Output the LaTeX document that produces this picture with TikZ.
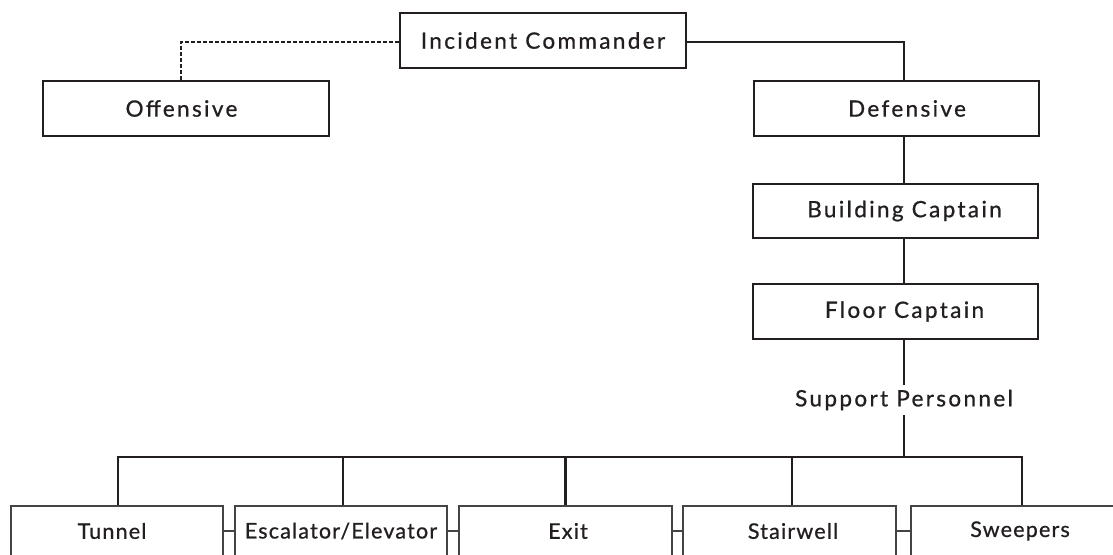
\documentclass[tikz,border=0pt]{standalone}
\usepackage{fontspec}
\setmainfont{Lato}
\newfontfamily\topfont{Lato}[LetterSpace=10.5,FakeBold=0.8]
\newfontfamily\botfont{Lato}[LetterSpace=5.5,FakeBold=0.8]
\usetikzlibrary{positioning}
\definecolor{ink}{HTML}{231F20}
\definecolor{thin}{HTML}{444444}
\tikzset{
  topbox/.style={draw=ink, line width=2.4pt, rectangle, inner sep=0pt, text=ink,
    font=\topfont\fontsize{22.5}{26}\selectfont},
  botbox/.style={draw=thin, line width=1.3pt, rectangle, inner sep=0pt, text=ink,
    minimum height=50pt, font=\botfont\fontsize{21.5}{25}\selectfont},
  conn/.style={draw=ink, line width=2.4pt},
  dconn/.style={draw=ink, line width=2.4pt, dash pattern=on 4pt off 2pt},
  link/.style={draw=thin, line width=1.3pt},
}
\begin{document}
\begin{tikzpicture}[x=1pt,y=-1pt]
\useasboundingbox (0,0) rectangle (1113,554);
\clip (0,0) rectangle (1113,554);
\fill[white] (0,0) rectangle (1113,554);
% top level
\node[topbox, minimum width=286pt, minimum height=55pt] (ic) at (543,40.5) {Incident Commander};
\node[topbox, minimum width=286pt, minimum height=55pt] (off) at (186,108.5) {\hspace*{-9pt}Offensive};
\node[topbox, minimum width=285pt, minimum height=55pt] (def) at (896.5,108.5) {\hspace*{21pt}Defensive};
\node[topbox, minimum width=285pt, minimum height=54pt] (bc) at (895.5,211) {\hspace*{18pt}Building Captain};
\node[topbox, minimum width=285pt, minimum height=55pt] (fc) at (895.5,311.5) {\hspace*{18pt}Floor Captain};
\node[inner sep=0pt, minimum height=30pt, text=ink, font=\topfont\fontsize{22.5}{26}\selectfont] (sp) at (904,400) {Support Personnel};
\coordinate (bus) at (904,457);
% bottom row
\node[botbox, minimum width=212pt] (tun) at (117,531) {\hspace*{-10pt}Tunnel};
\node[botbox, minimum width=212pt] (esc) at (341,531) {Escalator/Elevator};
\node[botbox, minimum width=213pt] (exit) at (565.5,531) {\hspace*{5pt}Exit};
\node[botbox, minimum width=213pt] (stair) at (789.5,531) {\hspace*{7pt}Stairwell};
\node[botbox, minimum width=213pt] (sweep) at (1017.5,531) {\hspace*{5pt}Sweepers};
% connectors
\draw[dconn] ([yshift=-1.5pt]ic.west) -| ([xshift=-5pt]off.north);
\draw[conn] ([yshift=-1.5pt]ic.east) -| (sp |- def.north);
\draw[conn] (sp |- def.south) -- (sp |- bc.north);
\draw[conn] (sp |- bc.south) -- (sp |- fc.north);
\draw[conn] (sp |- fc.south) -- (sp.north);
\draw[conn] (sp.south) -- (bus);
\draw[conn] ([xshift=1pt]tun.north) |- (bus);
\draw[conn] ([xshift=4.5pt]sweep.north) |- (bus);
\draw[conn] ([xshift=2pt]esc.north) -- ([xshift=2pt]esc.north |- bus);
\draw[conn] (exit.north) -- (exit.north |- bus);
\draw[conn] ([xshift=2.5pt]stair.north) -- ([xshift=2.5pt]stair.north |- bus);
\draw[link] (tun.east) -- (esc.west);
\draw[link] (esc.east) -- (exit.west);
\draw[link] (exit.east) -- (stair.west);
\draw[link] (stair.east) -- (sweep.west);
\end{tikzpicture}
\end{document}
